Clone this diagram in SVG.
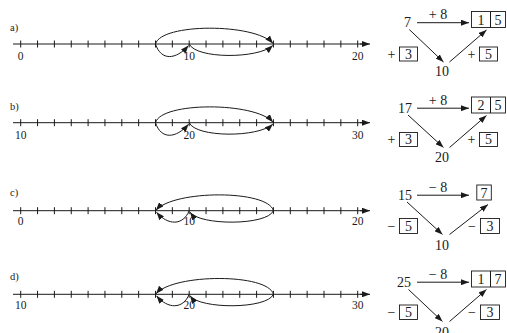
<svg xmlns="http://www.w3.org/2000/svg" xmlns:xlink="http://www.w3.org/1999/xlink" width="507" height="333" viewBox="0 0 507 333" font-family="'Liberation Serif', 'DejaVu Serif', serif">
<style>
text{font-family:'Liberation Serif','DejaVu Serif',serif;fill:#1a1a1a}
.lbl{font-size:10.5px}
.num{font-size:11.5px;text-anchor:middle}
.big{font-size:14px;text-anchor:middle}
.ln{stroke:#1a1a1a;stroke-width:1;fill:none}
.arc{stroke:#1a1a1a;stroke-width:1;fill:none;marker-end:url(#ah)}
.box{stroke:#1a1a1a;stroke-width:0.9;fill:none}
</style>
<defs>
<marker id="ah" viewBox="0 0 8 6" refX="8" refY="3" markerWidth="8" markerHeight="6" orient="auto" markerUnits="userSpaceOnUse"><path d="M0,0 L8,3 L0,6 z" fill="#1a1a1a"/></marker>
<g id="axis">
<path class="ln" d="M13,0 H364" />
<path class="arc" d="M360,0 H370" />
<path class="ln" d="M20.7,-3.5v7M37.55,-3.5v7M54.4,-3.5v7M71.25,-3.5v7M88.1,-3.5v7M104.95,-3.5v7M121.8,-3.5v7M138.65,-3.5v7M155.5,-3.5v7M172.35,-3.5v7M189.2,-3.5v7M206.05,-3.5v7M222.9,-3.5v7M239.75,-3.5v7M256.6,-3.5v7M273.45,-3.5v7M290.3,-3.5v7M307.15,-3.5v7M324,-3.5v7M340.85,-3.5v7M357.7,-3.5v7" />
</g>
<g id="fwd">
<path class="arc" d="M155.5,0 C161,-21 255,-21 273,-0.5" />
<path class="arc" d="M155.5,0 C161,17 176,16 188.5,1.5" />
<path class="arc" d="M189.2,0 C196,15 258,15 272.8,1.5" />
</g>
<g id="rev">
<path class="arc" d="M273.45,0 C268,-21 174,-21 156,-0.5" />
<path class="arc" d="M189.2,0 C183,15 168,15 156.5,1.5" />
<path class="arc" d="M273.45,0 C267,15 200,15 190,1.5" />
</g>
</defs>

<g id="panel-a-line">
<text class="lbl" x="10" y="30.5">a)</text>
<use xlink:href="#axis" transform="translate(0,44)"/>
<text class="num" x="20.7" y="60">0</text>
<text class="num" x="189.2" y="60">10</text>
<text class="num" x="357.7" y="60">20</text>
</g>
<g id="panel-b-line">
<text class="lbl" x="10" y="110">b)</text>
<use xlink:href="#axis" transform="translate(0,122.7)"/>
<text class="num" x="20.7" y="139">10</text>
<text class="num" x="189.2" y="139">20</text>
<text class="num" x="357.7" y="139">30</text>
</g>
<g id="panel-c-line">
<text class="lbl" x="10" y="196">c)</text>
<use xlink:href="#axis" transform="translate(0,210.7)"/>
<text class="num" x="20.7" y="224.5">0</text>
<text class="num" x="189.2" y="224.5">10</text>
<text class="num" x="357.7" y="224.5">20</text>
</g>
<g id="panel-d-line">
<text class="lbl" x="10" y="280">d)</text>
<use xlink:href="#axis" transform="translate(0,294.3)"/>
<text class="num" x="20.7" y="308.5">10</text>
<text class="num" x="189.2" y="308.5">20</text>
<text class="num" x="357.7" y="308.5">30</text>
</g>

<g id="connectors">
<use xlink:href="#fwd" transform="translate(0,44)"/>
<use xlink:href="#fwd" transform="translate(0,122.7)"/>
<use xlink:href="#rev" transform="translate(0,210.7)"/>
<use xlink:href="#rev" transform="translate(0,294.3)"/>
<path class="arc" d="M417,22.7 H469"/>
<path class="arc" d="M409.3,29.5 L443.5,62"/>
<path class="arc" d="M449.5,62 L486.5,30"/>
<g transform="translate(0,85.5)">
<path class="arc" d="M417,22.7 H469"/>
<path class="arc" d="M408,29.5 L443.5,62"/>
<path class="arc" d="M449.5,62 L486.5,30"/>
</g>
<g transform="translate(0,172.5)">
<path class="arc" d="M417,22.7 H469"/>
<path class="arc" d="M407,29.5 L442.5,62"/>
<path class="arc" d="M449.5,62 L488,32"/>
</g>
<g transform="translate(0,259.5)">
<path class="arc" d="M417,22.7 H469"/>
<path class="arc" d="M408.5,30 L442.5,62"/>
<path class="arc" d="M449.5,62 L486.5,30"/>
</g>
</g>

<g id="panel-a-calc">
<text class="big" x="407.5" y="27">7</text>
<text class="big" x="438" y="19">+ 8</text>
<rect class="box" x="471.5" y="11.5" width="34" height="16"/>
<path class="ln" d="M490.5,11.5 V27.5"/>
<text class="big" x="481" y="24.5">1</text>
<text class="big" x="498" y="24.5">5</text>
<text class="big" x="442" y="76">10</text>
<text class="big" x="391.5" y="58.5">+</text>
<rect class="box" x="399.5" y="47" width="18" height="14"/>
<text class="big" x="408.5" y="58.5">3</text>
<text class="big" x="471.5" y="58.5">+</text>
<rect class="box" x="479.5" y="47" width="18" height="14"/>
<text class="big" x="488.5" y="58.5">5</text>
</g>
<g id="panel-b-calc" transform="translate(0,85.5)">
<text class="big" x="405" y="27">17</text>
<text class="big" x="438" y="19">+ 8</text>
<rect class="box" x="471.5" y="11.5" width="34" height="16"/>
<path class="ln" d="M490.5,11.5 V27.5"/>
<text class="big" x="481" y="24.5">2</text>
<text class="big" x="498" y="24.5">5</text>
<text class="big" x="442" y="76">20</text>
<text class="big" x="391.5" y="58.5">+</text>
<rect class="box" x="399.5" y="47" width="18" height="14"/>
<text class="big" x="408.5" y="58.5">3</text>
<text class="big" x="471.5" y="58.5">+</text>
<rect class="box" x="479.5" y="47" width="18" height="14"/>
<text class="big" x="488.5" y="58.5">5</text>
</g>
<g id="panel-c-calc" transform="translate(0,172.5)">
<text class="big" x="405" y="27">15</text>
<text class="big" x="438" y="19">− 8</text>
<rect class="box" x="476.8" y="12.5" width="14.5" height="15"/>
<text class="big" x="484" y="25">7</text>
<text class="big" x="442" y="77.5">10</text>
<text class="big" x="391.5" y="58.5">−</text>
<rect class="box" x="399.5" y="46" width="18" height="15"/>
<text class="big" x="408.5" y="58.5">5</text>
<text class="big" x="472" y="58.5">−</text>
<rect class="box" x="480.5" y="46" width="19" height="15"/>
<text class="big" x="490" y="58.5">3</text>
</g>
<g id="panel-d-calc" transform="translate(0,259.5)">
<text class="big" x="404" y="27">25</text>
<text class="big" x="438" y="19.5">− 8</text>
<rect class="box" x="471.5" y="11.5" width="34" height="16"/>
<path class="ln" d="M490.5,11.5 V27.5"/>
<text class="big" x="481" y="24.5">1</text>
<text class="big" x="498" y="24.5">7</text>
<text class="big" x="442" y="77">20</text>
<text class="big" x="391.5" y="57.5">−</text>
<rect class="box" x="399.5" y="45.5" width="18" height="14.5"/>
<text class="big" x="408.5" y="57.5">5</text>
<text class="big" x="472" y="57.5">−</text>
<rect class="box" x="480.5" y="45.5" width="19" height="14.5"/>
<text class="big" x="490" y="57.5">3</text>
</g>
</svg>
